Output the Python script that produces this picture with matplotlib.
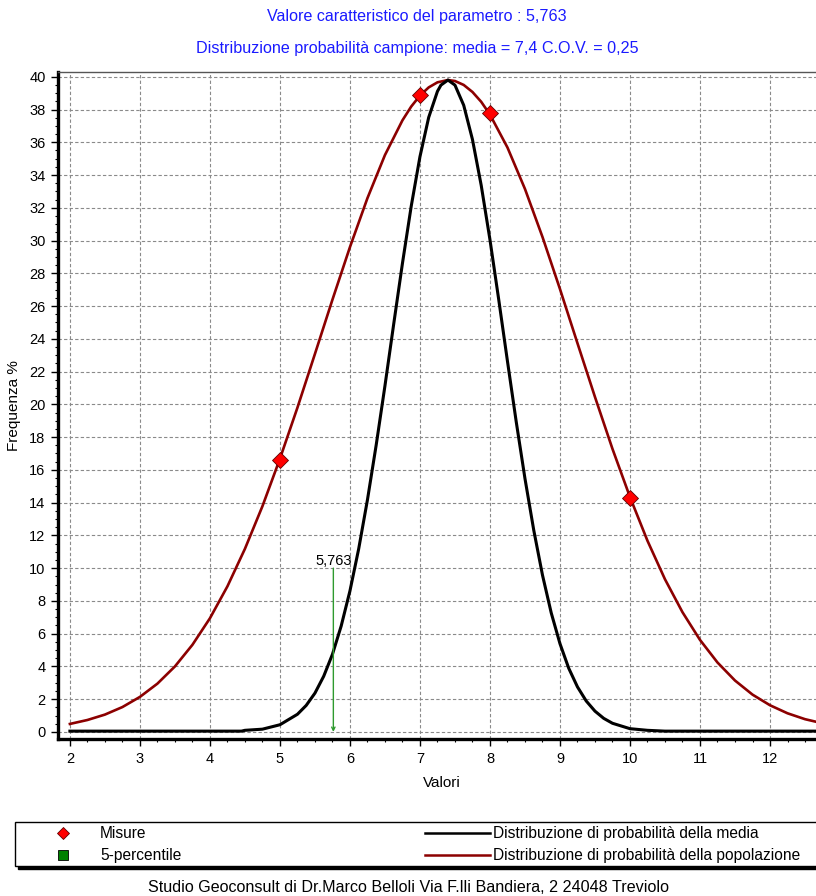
import matplotlib
matplotlib.use('Agg')
import matplotlib.pyplot as plt
from matplotlib.patches import Rectangle
from matplotlib.lines import Line2D
from matplotlib.ticker import MultipleLocator

plt.rcParams['font.family'] = ['Liberation Sans', 'DejaVu Sans']

# curve
red_x = [2.0, 2.25, 2.5, 2.75, 3.0, 3.25, 3.5, 3.75, 4.0, 4.25, 4.5, 4.75,
         5.0, 5.25, 5.5, 5.75, 6.0, 6.25, 6.5, 6.75, 6.875, 7.0, 7.125, 7.25, 7.4,
         7.5, 7.625, 7.75, 7.875, 8.0, 8.25, 8.5, 8.75, 9.0, 9.25, 9.5, 9.75,
         10.0, 10.25, 10.5, 10.75, 11.0, 11.25, 11.5, 11.75, 12.0, 12.25, 12.5, 12.75]
red_y = [0.49, 0.73, 1.06, 1.52, 2.14, 2.95, 4.0, 5.32, 6.94, 8.89, 11.18, 13.78,
         16.68, 19.8, 23.08, 26.39, 29.6, 32.59, 35.22, 37.34, 38.18, 38.85, 39.35, 39.66, 39.8,
         39.74, 39.5, 39.07, 38.47, 37.69, 35.68, 33.15, 30.22, 27.04, 23.73, 20.45, 17.28,
         14.34, 11.67, 9.32, 7.31, 5.62, 4.24, 3.14, 2.28, 1.63, 1.14, 0.78, 0.53]

black_x = [2.0, 3.0, 4.0, 4.45, 4.5, 4.75, 5.0, 5.25, 5.375, 5.5, 5.625, 5.75, 5.875,
           6.0, 6.125, 6.25, 6.375, 6.5, 6.625, 6.75, 6.875, 7.0, 7.125, 7.25, 7.3,
           7.4, 7.5, 7.625, 7.75, 7.875, 8.0, 8.125, 8.25, 8.375, 8.5, 8.625, 8.75,
           8.875, 9.0, 9.125, 9.25, 9.375, 9.5, 9.625, 9.75, 10.0, 10.25, 10.5,
           11.0, 12.0, 12.75]
black_y = [0.05, 0.05, 0.05, 0.05, 0.1, 0.17, 0.44, 1.08, 1.62, 2.37, 3.4, 4.74, 6.47,
           8.61, 11.18, 14.17, 17.52, 21.13, 24.9, 28.61, 32.09, 35.12, 37.52, 39.11, 39.49,
           39.8, 39.49, 38.26, 36.17, 33.37, 30.05, 26.4, 22.63, 18.94, 15.47, 12.33, 9.58,
           7.27, 5.39, 3.89, 2.75, 1.89, 1.27, 0.83, 0.53, 0.2, 0.1, 0.05,
           0.05, 0.05, 0.05]

misure_x = [5, 7, 8, 10]
misure_y = [16.6, 38.9, 37.8, 14.3]

perc_value = 5.763
perc_label = '5,763'
arrow_top = 10

title1 = 'Valore caratteristico del parametro : 5,763'
title2 = 'Distribuzione probabilità campione: media = 7,4 C.O.V. = 0,25'
footer = 'Studio Geoconsult di Dr.Marco Belloli Via F.lli Bandiera, 2 24048 Treviolo'
legend_labels = ['Misure', '5-percentile',
                 'Distribuzione di probabilità della media',
                 'Distribuzione di probabilità della popolazione']

dark_red = '#8c0000'
green = '#2e9a2e'
blue = '#1a1aff'

W, H = 816, 896
fig = plt.figure(figsize=(W / 100, H / 100), dpi=100)
fig.patch.set_facecolor('white')

ax = fig.add_axes([58 / W, 1 - 739 / H, (W - 58) / W, (739 - 72) / H])
ax.set_xlim(1.83, 12.657)
ax.set_ylim(-0.43, 40.29)

ax.plot(red_x, red_y, color=dark_red, lw=1.9, zorder=3)
ax.plot(black_x, black_y, color='black', lw=2.2, zorder=4)
ax.plot(misure_x, misure_y, ls='none', marker='D', ms=8, mfc='#ff0000',
        mec='#600000', mew=0.6, zorder=5)

ax.annotate('', xy=(perc_value, 0), xytext=(perc_value, arrow_top),
            arrowprops=dict(arrowstyle='->', color=green, lw=1.0,
                            mutation_scale=6, shrinkA=0, shrinkB=0), zorder=6)
ax.text(perc_value, arrow_top, perc_label, ha='center', va='bottom', fontsize=10.5)

ax.xaxis.set_major_locator(MultipleLocator(1))
ax.xaxis.set_minor_locator(MultipleLocator(0.25))
ax.yaxis.set_major_locator(MultipleLocator(2))
ax.yaxis.set_minor_locator(MultipleLocator(0.5))
ax.tick_params(axis='both', which='major', direction='out', length=5, width=1,
               labelsize=10.5, pad=4)
ax.tick_params(axis='both', which='minor', direction='out', length=2.5, width=0.8)

ax.grid(True, which='major', color='#8a8a8a', ls=(0, (3, 2)), lw=0.8)
ax.set_axisbelow(True)

ax.spines['right'].set_visible(False)
ax.spines['top'].set_color('#555555')
ax.spines['top'].set_linewidth(1)
ax.spines['left'].set_linewidth(2.4)
ax.spines['bottom'].set_linewidth(2.4)

ax.set_xlabel('Valori', fontsize=11)
ax.xaxis.set_label_coords(0.507, -0.056)
ax.set_ylabel('Frequenza %', fontsize=11)
ax.yaxis.set_label_coords(-0.049, 0.5)

fig.text(0.511, 1 - 17 / H, title1, ha='center', va='center', color=blue, fontsize=11.6)
fig.text(0.511, 1 - 48 / H, title2, ha='center', va='center', color=blue, fontsize=11.6)

# legend box with shadow
bx0, by0, bh = 15 / W, 1 - 866 / H, 44 / H
fig.add_artist(Rectangle((bx0 + 3 / W, by0 - 3 / H), 1.0, bh, transform=fig.transFigure,
                         facecolor='black', edgecolor='black'))
fig.add_artist(Rectangle((bx0, by0), 1.0, bh, transform=fig.transFigure,
                         facecolor='white', edgecolor='black', lw=1))
row1, row2 = 1 - 833 / H, 1 - 855 / H
fig.add_artist(Line2D([63 / W], [row1], transform=fig.transFigure, marker='D', ms=6,
                      mfc='#ff0000', mec='#600000', mew=0.6, ls='none'))
fig.add_artist(Line2D([63 / W], [row2], transform=fig.transFigure, marker='s', ms=7,
                      mfc='#008000', mec='black', mew=0.6, ls='none'))
fig.text(100 / W, row1, legend_labels[0], va='center', fontsize=11.2)
fig.text(100 / W, row2, legend_labels[1], va='center', fontsize=11.2)
fig.add_artist(Line2D([425 / W, 490 / W], [row1, row1], transform=fig.transFigure,
                      color='black', lw=1.8))
fig.add_artist(Line2D([425 / W, 490 / W], [row2, row2], transform=fig.transFigure,
                      color=dark_red, lw=1.8))
fig.text(493 / W, row1, legend_labels[2], va='center', fontsize=11.2)
fig.text(493 / W, row2, legend_labels[3], va='center', fontsize=11.2)

fig.text(0.5, 1 - 887 / H, footer, ha='center', va='center', fontsize=11.6)

fig.savefig('out.png', dpi=100)
